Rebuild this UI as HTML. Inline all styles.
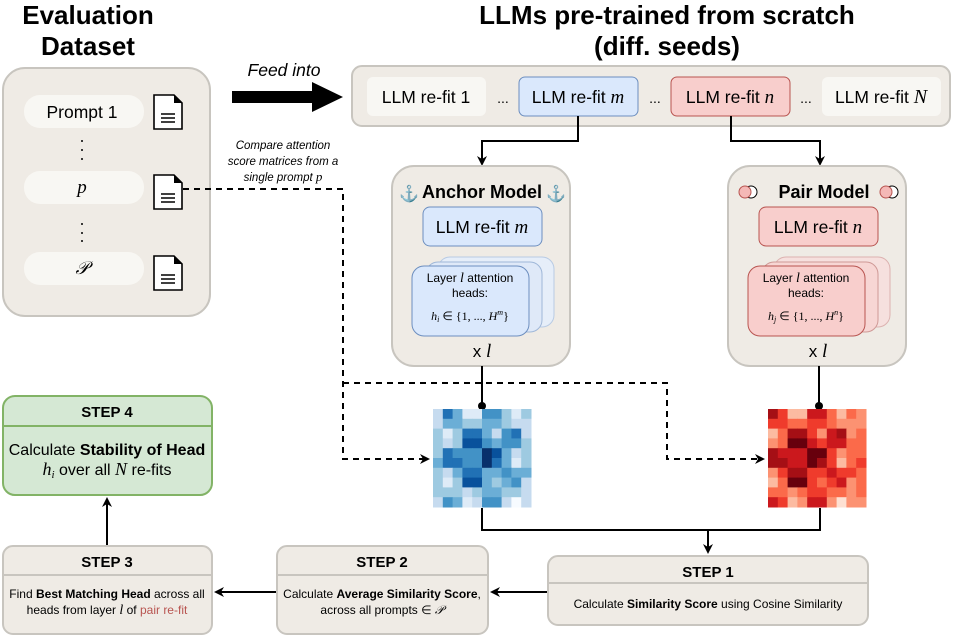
<!DOCTYPE html>
<html><head><meta charset="utf-8"><style>
body{margin:0;background:#fff}
svg{display:block;font-family:"Liberation Sans",sans-serif}
.m{font-family:"Liberation Serif",serif;font-style:italic}
</style></head><body>
<svg width="954" height="637" viewBox="0 0 954 637" xmlns="http://www.w3.org/2000/svg">
<defs>
<marker id="ah" markerWidth="10" markerHeight="10" refX="8" refY="5" orient="auto" markerUnits="userSpaceOnUse"><path d="M0,0 L10,5 L0,10 L3,5 z" fill="#000"/></marker>
<g id="doc"><path d="M0,0 H20 L28,8 V34 H0 Z" fill="#fff" stroke="#000" stroke-width="1.6"/><path d="M20,0 L28,8 H20 Z" fill="#000"/><path d="M7,19 H21 M7,23 H21 M7,27 H21" stroke="#000" stroke-width="1.5"/></g>
</defs>

<!-- titles -->
<text x="88" y="24" font-size="26" font-weight="bold" text-anchor="middle">Evaluation</text>
<text x="88" y="55" font-size="26" font-weight="bold" text-anchor="middle">Dataset</text>
<text x="667" y="24" font-size="26" font-weight="bold" text-anchor="middle">LLMs pre-trained from scratch</text>
<text x="667" y="55" font-size="26" font-weight="bold" text-anchor="middle">(diff. seeds)</text>

<!-- dataset panel -->
<rect x="3" y="68" width="207" height="248" rx="22" fill="#efebe5" stroke="#c8c5bf" stroke-width="2"/>
<rect x="24" y="95" width="120" height="33" rx="16" fill="#f8f7f3"/>
<text x="82" y="118" font-size="17.5" text-anchor="middle">Prompt 1</text>
<rect x="24" y="171" width="120" height="33" rx="16" fill="#f8f7f3"/>
<text x="82" y="193" font-size="19" text-anchor="middle" class="m">p</text>
<rect x="24" y="252" width="120" height="33" rx="16" fill="#f8f7f3"/>
<text x="82" y="274" font-size="18" text-anchor="middle" class="m">𝒫</text>
<g fill="#000"><circle cx="82" cy="141" r="1"/><circle cx="82" cy="150" r="1"/><circle cx="82" cy="159" r="1"/>
<circle cx="82" cy="224" r="1"/><circle cx="82" cy="233" r="1"/><circle cx="82" cy="241" r="1"/></g>
<use href="#doc" x="154" y="95"/>
<use href="#doc" x="154" y="175"/>
<use href="#doc" x="154" y="256"/>

<!-- feed arrow -->
<text x="284" y="76" font-size="17.5" font-style="italic" text-anchor="middle">Feed into</text>
<path d="M232,91 H312 V82 L343,97 L312,112 V103 H232 Z" fill="#000"/>

<text x="283" y="149" font-size="11.5" font-style="italic" text-anchor="middle">Compare attention</text>
<text x="283" y="165" font-size="11.5" font-style="italic" text-anchor="middle">score matrices from a</text>
<text x="283" y="181" font-size="11.5" font-style="italic" text-anchor="middle">single prompt <tspan class="m" font-size="13">p</tspan></text>

<!-- LLM bar -->
<rect x="352" y="66" width="598" height="60" rx="10" fill="#efebe5" stroke="#c8c5bf" stroke-width="2"/>
<rect x="367" y="77" width="119" height="39" rx="6" fill="#f8f7f3"/>
<text x="426" y="103" font-size="17.5" text-anchor="middle">LLM re-fit 1</text>
<text x="503" y="103" font-size="14" text-anchor="middle">...</text>
<rect x="519" y="77" width="119" height="39" rx="6" fill="#dae8fc" stroke="#6c8ebf"/>
<text x="578" y="103" font-size="17.5" text-anchor="middle">LLM re-fit <tspan class="m" font-size="19">m</tspan></text>
<text x="655" y="103" font-size="14" text-anchor="middle">...</text>
<rect x="671" y="77" width="119" height="39" rx="6" fill="#f8cecc" stroke="#b85450"/>
<text x="730" y="103" font-size="17.5" text-anchor="middle">LLM re-fit <tspan class="m" font-size="19">n</tspan></text>
<text x="806" y="103" font-size="14" text-anchor="middle">...</text>
<rect x="822" y="77" width="119" height="39" rx="6" fill="#f8f7f3"/>
<text x="881" y="103" font-size="17.5" text-anchor="middle">LLM re-fit <tspan class="m" font-size="20">N</tspan></text>

<!-- connectors top -->
<path d="M578,116 V141 H482 V164" fill="none" stroke="#000" stroke-width="2" marker-end="url(#ah)"/>
<path d="M731,116 V141 H820 V164" fill="none" stroke="#000" stroke-width="2" marker-end="url(#ah)"/>

<!-- anchor model -->
<rect x="392" y="166" width="178" height="200" rx="22" fill="#efebe5" stroke="#c8c5bf" stroke-width="2"/>
<text x="482" y="198" font-size="18" font-weight="bold" text-anchor="middle">Anchor Model</text>
<text x="409" y="199" font-size="16" fill="#6c8ebf" text-anchor="middle">⚓</text>
<text x="556" y="199" font-size="16" fill="#6c8ebf" text-anchor="middle">⚓</text>
<rect x="423" y="207" width="119" height="39" rx="7" fill="#dae8fc" stroke="#6c8ebf"/>
<text x="482" y="233" font-size="17.5" text-anchor="middle">LLM re-fit <tspan class="m" font-size="19">m</tspan></text>
<rect x="438" y="257" width="116" height="70" rx="12" fill="#e6eef9" stroke="#b8cbe4"/>
<rect x="426" y="262" width="116" height="70" rx="12" fill="#dfe9f8" stroke="#9fb7d8"/>
<rect x="412" y="266" width="117" height="70" rx="12" fill="#dae8fc" stroke="#6c8ebf"/>
<text x="470" y="282" font-size="12" text-anchor="middle">Layer <tspan class="m" font-size="14">l</tspan> attention</text>
<text x="470" y="297" font-size="12" text-anchor="middle">heads:</text>
<text x="470" y="320" font-size="12" text-anchor="middle" font-family="Liberation Serif,serif"><tspan font-style="italic">h<tspan font-size="8" dy="2">i</tspan></tspan><tspan dy="-2"> ∈ {1, ..., </tspan><tspan font-style="italic">H</tspan><tspan font-size="8" dy="-5" font-style="italic">m</tspan><tspan dy="5">}</tspan></text>
<text x="482" y="357" font-size="17" text-anchor="middle">x <tspan class="m" font-size="19">l</tspan></text>

<!-- pair model -->
<rect x="728" y="166" width="178" height="200" rx="22" fill="#efebe5" stroke="#c8c5bf" stroke-width="2"/>
<text x="824" y="198" font-size="18" font-weight="bold" text-anchor="middle">Pair Model</text>
<circle cx="751" cy="192" r="6" fill="#fff" stroke="#000"/><circle cx="745" cy="192" r="6" fill="#f4b8b6" stroke="#b85450"/>
<circle cx="892" cy="192" r="6" fill="#fff" stroke="#000"/><circle cx="886" cy="192" r="6" fill="#f4b8b6" stroke="#b85450"/>
<rect x="759" y="207" width="119" height="39" rx="7" fill="#f8cecc" stroke="#b85450"/>
<text x="818" y="233" font-size="17.5" text-anchor="middle">LLM re-fit <tspan class="m" font-size="19">n</tspan></text>
<rect x="774" y="257" width="116" height="70" rx="12" fill="#f6e0de" stroke="#dcb2b0"/>
<rect x="762" y="262" width="116" height="70" rx="12" fill="#f7d6d4" stroke="#cf9996"/>
<rect x="748" y="266" width="117" height="70" rx="12" fill="#f8cecc" stroke="#b85450"/>
<text x="806" y="282" font-size="12" text-anchor="middle">Layer <tspan class="m" font-size="14">l</tspan> attention</text>
<text x="806" y="297" font-size="12" text-anchor="middle">heads:</text>
<text x="806" y="320" font-size="12" text-anchor="middle" font-family="Liberation Serif,serif"><tspan font-style="italic">h<tspan font-size="8" dy="2">j</tspan></tspan><tspan dy="-2"> ∈ {1, ..., </tspan><tspan font-style="italic">H</tspan><tspan font-size="8" dy="-5" font-style="italic">n</tspan><tspan dy="5">}</tspan></text>
<text x="818" y="357" font-size="17" text-anchor="middle">x <tspan class="m" font-size="19">l</tspan></text>

<!-- lines to heatmaps -->
<path d="M482,366 V406 M819,366 V406" stroke="#000" stroke-width="2"/>
<circle cx="482" cy="406" r="4"/><circle cx="819" cy="406" r="4"/>

<!-- dashed -->
<path d="M183,189 H343 V459 H428" fill="none" stroke="#000" stroke-width="2" stroke-dasharray="6,5" marker-end="url(#ah)"/>
<path d="M343,383 H667 V459 H763" fill="none" stroke="#000" stroke-width="2" stroke-dasharray="6,5" marker-end="url(#ah)"/>

<g id="hb"></g><g id="hr"></g>

<!-- bottom connectors -->
<path d="M482,508 V530 H820 V508" fill="none" stroke="#000" stroke-width="2"/>
<path d="M708,530 V552" fill="none" stroke="#000" stroke-width="2" marker-end="url(#ah)"/>
<path d="M548,592 H492" fill="none" stroke="#000" stroke-width="2" marker-end="url(#ah)"/>
<path d="M277,592 H216" fill="none" stroke="#000" stroke-width="2" marker-end="url(#ah)"/>
<path d="M107,546 V499" fill="none" stroke="#000" stroke-width="2" marker-end="url(#ah)"/>

<!-- step 1 -->
<rect x="548" y="556" width="320" height="69" rx="10" fill="#efebe5" stroke="#c8c5bf" stroke-width="2"/>
<line x1="548" y1="583" x2="868" y2="583" stroke="#c8c5bf" stroke-width="2"/>
<text x="708" y="577" font-size="15" font-weight="bold" text-anchor="middle">STEP 1</text>
<text x="708" y="608" font-size="12" text-anchor="middle">Calculate <tspan font-weight="bold">Similarity Score</tspan> using Cosine Similarity</text>

<!-- step 2 -->
<rect x="277" y="546" width="211" height="88" rx="10" fill="#efebe5" stroke="#c8c5bf" stroke-width="2"/>
<line x1="277" y1="575" x2="488" y2="575" stroke="#c8c5bf" stroke-width="2"/>
<text x="382" y="567" font-size="15" font-weight="bold" text-anchor="middle">STEP 2</text>
<text x="382" y="598" font-size="12" text-anchor="middle">Calculate <tspan font-weight="bold">Average Similarity Score</tspan>,</text>
<text x="382" y="614" font-size="12" text-anchor="middle">across all prompts ∈ <tspan class="m">𝒫</tspan></text>

<!-- step 3 -->
<rect x="3" y="546" width="209" height="88" rx="10" fill="#efebe5" stroke="#c8c5bf" stroke-width="2"/>
<line x1="3" y1="575" x2="212" y2="575" stroke="#c8c5bf" stroke-width="2"/>
<text x="107" y="567" font-size="15" font-weight="bold" text-anchor="middle">STEP 3</text>
<text x="107" y="598" font-size="12" text-anchor="middle">Find <tspan font-weight="bold">Best Matching Head</tspan> across all</text>
<text x="107" y="614" font-size="12" text-anchor="middle">heads from layer <tspan class="m" font-size="14">l</tspan> of <tspan fill="#b85450">pair re-fit</tspan></text>

<!-- step 4 -->
<rect x="3" y="396" width="209" height="99" rx="12" fill="#d5e8d4" stroke="#82b366" stroke-width="2"/>
<line x1="3" y1="426" x2="212" y2="426" stroke="#82b366" stroke-width="2"/>
<text x="107" y="417" font-size="15" font-weight="bold" text-anchor="middle">STEP 4</text>
<text x="107" y="455" font-size="16" text-anchor="middle">Calculate <tspan font-weight="bold">Stability of Head</tspan></text>
<text x="107" y="475" font-size="16" text-anchor="middle"><tspan class="m" font-size="18">h<tspan font-size="11" dy="3">i</tspan></tspan><tspan dy="-3"> over all </tspan><tspan class="m" font-size="18">N</tspan> re-fits</text>
</svg>
<script>
var g=["2641155313","2443344322","3136642562","3237754553","3655587423","4665586413","3246644544","3137743452","3332344332","2541255202"];
var B=["#f7fbff","#deebf7","#c6dbef","#9ecae1","#6baed6","#4292c6","#2171b5","#08519c","#08306b"];
var R=["#fff5f0","#fee0d2","#fcbba1","#fc9272","#fb6a4a","#ef3b2c","#cb181d","#a50f15","#67000d"];
function draw(id,x0,pal,sh){var s="";for(var r=0;r<10;r++)for(var c=0;c<10;c++){var v=Math.min(8,+g[r][(c+sh)%10]+(sh?1:0));s+='<rect x="'+(x0+c*9.8)+'" y="'+(409+r*9.8)+'" width="10.3" height="10.3" fill="'+pal[v]+'"/>';}document.getElementById(id).innerHTML=s;}
draw("hb",433,B,0);draw("hr",768,R,1);
</script>
</body></html>
